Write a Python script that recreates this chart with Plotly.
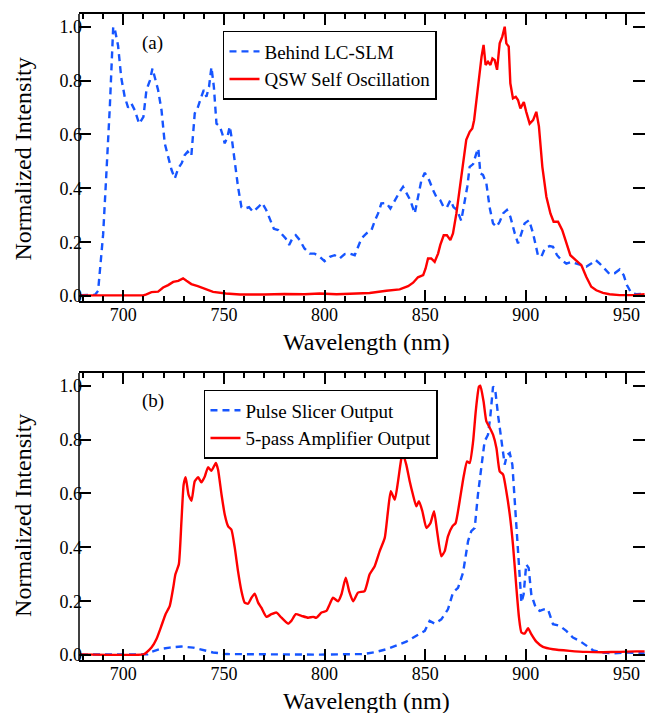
import plotly.graph_objects as go

# ---------------- data ----------------
a_slm_x = [679, 686, 687.5, 688, 690, 691.6, 693.3, 695, 695.8, 697.4, 699, 700.7, 702.4, 704, 705.7, 707.9, 710, 711.5,
           713.2, 714.5, 715.7, 717.3, 719, 720.6, 722.3, 724, 725.6, 727.3, 729, 730.5, 732, 733.8, 735.5, 737, 738.8,
           740, 741.3, 742.6, 743.8, 745, 746.3, 748, 749.3, 750.4, 751.7, 752.9, 754, 755.4, 757, 758.7, 760.3, 762.5,
           764.5, 767, 769, 771, 773, 774.8, 777, 779, 780.7, 782.4, 784, 785.7, 787.7, 790, 792.6, 795, 797.6, 800,
           802.6, 805, 807.5, 810, 812.5, 815, 816.6, 818.3, 820.8, 823.3, 825, 826.6, 828.2, 830.7, 832.7, 834.9,
           837.3, 839, 841, 842.6, 844.8, 846.4, 848.1, 849.8, 852, 853.9, 855.5, 857.5, 859.2, 860.8, 862.5, 864.1,
           865.8, 867.9, 869.6, 870.9, 872.1, 873.8, 875.4, 876.4, 877.4, 878.7, 880.4, 882, 883.7, 885.4, 887, 888.7,
           890.6, 892.3, 894.5, 896.1, 897.8, 899.4, 901.6, 903.6, 906, 907.7, 909.4, 911.8, 913.5, 915.5, 917.6,
           920.1, 922.6, 925.1, 927.6, 930, 932.5, 934.7, 936.7, 939.2, 941.6, 944.1, 946.6, 948.6, 950.2, 952.4,
           954.9, 959]
a_slm_y = [0.004, 0.005, 0.02, 0.06, 0.23, 0.455, 0.70, 1.0, 0.99, 0.93, 0.81, 0.74, 0.70, 0.715, 0.69, 0.64, 0.665, 0.765,
           0.80, 0.845, 0.81, 0.765, 0.69, 0.567, 0.517, 0.468, 0.437, 0.474, 0.493, 0.523, 0.536, 0.52, 0.678, 0.70, 0.74,
           0.765, 0.74, 0.777, 0.85, 0.777, 0.64, 0.63, 0.60, 0.567, 0.59, 0.63, 0.58, 0.49, 0.406, 0.33, 0.325, 0.33,
           0.313, 0.33, 0.346, 0.32, 0.28, 0.25, 0.245, 0.226, 0.214, 0.19, 0.214, 0.226, 0.208, 0.177, 0.158, 0.158,
           0.146, 0.13, 0.146, 0.152, 0.14, 0.156, 0.158, 0.152, 0.183, 0.214, 0.233, 0.245, 0.28, 0.307, 0.344, 0.346,
           0.325, 0.356, 0.387, 0.406, 0.38, 0.356, 0.307, 0.369, 0.43, 0.458, 0.43, 0.394, 0.369, 0.356, 0.33, 0.33,
           0.356, 0.33, 0.32, 0.28, 0.344, 0.406, 0.48, 0.49, 0.53, 0.548, 0.455, 0.45, 0.418, 0.33, 0.27, 0.257, 0.276,
           0.307, 0.32, 0.295, 0.233, 0.196, 0.233, 0.27, 0.282, 0.233, 0.152, 0.146, 0.177, 0.186, 0.183, 0.152, 0.134,
           0.121, 0.127, 0.121, 0.115, 0.109, 0.121, 0.134, 0.121, 0.103, 0.082, 0.085, 0.099, 0.078, 0.041, 0.012,
           0.007, 0.01]

a_qsw_x = [679, 710, 711.5, 714, 717.3, 719.8, 722.3, 724.8, 727.3, 729.7, 731.4, 733.8, 737, 740.5, 744.6, 751, 758, 770,
           780, 790, 797.6, 806, 814, 822.4, 830.7, 837.3, 841.5, 844, 846.4, 849, 850.2, 851.4, 853, 854.7, 856.4, 857.5,
           859.2, 860.8, 862.5, 863.8, 865.5, 866.8, 868.5, 870.4, 872.1, 873.4, 874.3, 875.4, 876.7, 878, 879, 880,
           881.2, 882.4, 883.4, 884.5, 885.7, 887, 888.3, 889.5, 890.3, 891.5, 892.3, 893.6, 895, 896.1, 897.3, 899,
           900.2, 901.9, 903.6, 905.2, 906.5, 908.2, 910.2, 912.2, 913.8, 916, 918.1, 920.1, 922.1, 924.8, 927.6, 930,
           932.5, 935, 938.3, 941.6, 946.6, 953.2, 959]
a_qsw_y = [0.003, 0.003, 0.007, 0.015, 0.017, 0.032, 0.041, 0.053, 0.057, 0.066, 0.057, 0.045, 0.037, 0.028, 0.016, 0.01,
           0.006, 0.006, 0.008, 0.007, 0.01, 0.007, 0.01, 0.012, 0.02, 0.025, 0.037, 0.05, 0.07, 0.078, 0.103, 0.14, 0.14,
           0.127, 0.158, 0.19, 0.226, 0.226, 0.208, 0.233, 0.307, 0.38, 0.455, 0.58, 0.61, 0.622, 0.653, 0.728, 0.814,
           0.889, 0.932, 0.858, 0.87, 0.858, 0.882, 0.876, 0.84, 0.938, 0.963, 1.0, 0.938, 0.926, 0.79, 0.734, 0.74,
           0.728, 0.697, 0.72, 0.684, 0.64, 0.653, 0.684, 0.63, 0.48, 0.369, 0.307, 0.276, 0.276, 0.245, 0.202, 0.152,
           0.134, 0.115, 0.072, 0.035, 0.022, 0.012, 0.007, 0.004, 0.004, 0.007]

b_slicer_x = [679, 712, 713.2, 718, 723, 728.9, 734.7, 739.6, 744.6, 751.2, 780, 797.6, 819.1, 825.7, 830.7, 835.7, 840.6,
              845.6, 849.8, 852.2, 854.7, 858, 861.3, 863.8, 866.3, 868.8, 871.3, 872.9, 874.6, 876.2, 877.9, 879.5,
              881.2, 882.4, 883.7, 884.7, 886.2, 887.8, 889.5, 890.6, 892, 893.3, 895, 896.6, 897.8, 898.9, 900.2,
              901.4, 902.7, 904.9, 906.9, 908.9, 911, 913.5, 916.8, 920.1, 923.4, 926.7, 930, 933.4, 938.3, 943.3,
              949.9, 959]
b_slicer_y = [0.002, 0.003, 0.01, 0.022, 0.028, 0.032, 0.028, 0.02, 0.01, 0.004, 0.002, 0.002, 0.004, 0.012, 0.022, 0.035,
              0.05, 0.072, 0.09, 0.127, 0.117, 0.133, 0.17, 0.232, 0.25, 0.306, 0.423, 0.46, 0.472, 0.596, 0.707, 0.793,
              0.818, 0.89, 0.996, 0.99, 0.89, 0.805, 0.707, 0.743, 0.75, 0.707, 0.52, 0.324, 0.195, 0.226, 0.337, 0.324,
              0.226, 0.176, 0.164, 0.17, 0.17, 0.115, 0.109, 0.09, 0.065, 0.053, 0.035, 0.018, 0.01, 0.006, 0.01, 0.006]

b_amp_x = [679, 710, 711.5, 714, 716.5, 719, 721, 723.1, 724.8, 725.9, 727.6, 728.9, 730, 731, 732.4, 733.9, 735.5, 737.2,
           738.8, 740.5, 742.1, 743.8, 746, 747.1, 748.8, 750.4, 752.1, 753.7, 755.4, 757, 758.7, 760.3, 762, 763.7,
           765.3, 767, 768.6, 771.1, 773.6, 776.1, 778.6, 781.9, 783.5, 785.7, 788.5, 791.8, 794.3, 796, 798.5, 800.9,
           802.6, 804.2, 806.7, 808.4, 810.5, 812.2, 814.2, 816.6, 819.9, 822.4, 824.9, 827.4, 829.9, 831.5, 832.9,
           834.9, 836.5, 838.2, 839, 840.6, 842.3, 843.9, 845.6, 846.9, 848.6, 850.6, 852.6, 854.4, 855.9, 858, 859.7,
           861.3, 863.5, 865.1, 867.1, 869.1, 870.8, 872.1, 873.8, 875.1, 876.7, 877.4, 879, 880.4, 882, 883.7, 885.4,
           887, 888.7, 890.3, 892, 893.6, 895.3, 896.6, 897.8, 899.4, 901.1, 902.7, 905.2, 908.5, 913.5, 921.8, 930,
           938.3, 946.6, 954.9, 959]
b_amp_y = [0.003, 0.003, 0.01, 0.028, 0.06, 0.11, 0.152, 0.183, 0.25, 0.30, 0.337, 0.497, 0.633, 0.66, 0.596, 0.573, 0.645,
           0.66, 0.641, 0.663, 0.697, 0.684, 0.713, 0.688, 0.596, 0.522, 0.478, 0.466, 0.398, 0.312, 0.238, 0.195, 0.191,
           0.213, 0.228, 0.195, 0.176, 0.142, 0.152, 0.158, 0.139, 0.117, 0.127, 0.152, 0.146, 0.139, 0.142, 0.139,
           0.158, 0.164, 0.19, 0.213, 0.20, 0.226, 0.287, 0.238, 0.20, 0.232, 0.238, 0.30, 0.33, 0.386, 0.435, 0.534,
           0.608, 0.577, 0.645, 0.731, 0.744, 0.707, 0.645, 0.596, 0.552, 0.571, 0.534, 0.472, 0.49, 0.534, 0.46, 0.367,
           0.386, 0.441, 0.478, 0.49, 0.571, 0.663, 0.719, 0.713, 0.793, 0.904, 0.996, 1.0, 0.941, 0.867, 0.845, 0.818,
           0.768, 0.682, 0.67, 0.608, 0.522, 0.41, 0.25, 0.139, 0.084, 0.08, 0.10, 0.078, 0.05, 0.031, 0.022, 0.016,
           0.012, 0.011, 0.012, 0.014, 0.014]

names_a = ["Behind LC-SLM", "QSW Self Oscillation"]
names_b = ["Pulse Slicer Output", "5-pass Amplifier Output"]
panel_labels = ["(a)", "(b)"]
x_title = "Wavelength (nm)"
y_title = "Normalized Intensity"
x_ticks = [700, 750, 800, 850, 900, 950]
y_ticks = [0.0, 0.2, 0.4, 0.6, 0.8, 1.0]

# ---------------- styling ----------------
FONT = "Liberation Serif, Times New Roman, serif"
BLUE = "#1655ff"
RED = "#ff0000"
DASH = "7px,5px"
LW = 2.4

fig = go.Figure()
fig.add_trace(go.Scatter(x=a_slm_x, y=a_slm_y, name=names_a[0], mode="lines",
                         line=dict(color=BLUE, width=LW, dash=DASH), xaxis="x", yaxis="y", legend="legend"))
fig.add_trace(go.Scatter(x=a_qsw_x, y=a_qsw_y, name=names_a[1], mode="lines",
                         line=dict(color=RED, width=LW), xaxis="x", yaxis="y", legend="legend"))
fig.add_trace(go.Scatter(x=b_slicer_x, y=b_slicer_y, name=names_b[0], mode="lines",
                         line=dict(color=BLUE, width=LW, dash=DASH), xaxis="x2", yaxis="y2", legend="legend2"))
fig.add_trace(go.Scatter(x=b_amp_x, y=b_amp_y, name=names_b[1], mode="lines",
                         line=dict(color=RED, width=LW, shape="spline", smoothing=0.5),
                         xaxis="x2", yaxis="y2", legend="legend2"))

xr = [678, 959.2]
yr = [-0.018, 1.047]

def xax(anchor):
    return dict(range=xr, anchor=anchor, tickvals=x_ticks, ticks="inside", ticklen=11, tickwidth=1.5,
                tickcolor="black", showline=True, linecolor="black", linewidth=1.5, mirror="ticks",
                minor=dict(dtick=10, tick0=0, ticks="inside", ticklen=5, tickwidth=1.5, tickcolor="black"),
                showgrid=False, zeroline=False, tickfont=dict(family=FONT, size=18, color="black"),
                ticklabelstandoff=-3)

def yax(anchor, dom):
    return dict(range=yr, anchor=anchor, domain=dom, tickvals=y_ticks, tickformat=".1f", ticks="inside",
                ticklen=12, tickwidth=1.5, tickcolor="black", showline=False, mirror="ticks",
                showgrid=False, zeroline=False, tickfont=dict(family=FONT, size=18, color="black"),
                ticklabelstandoff=-4)

def ann(text, x, y, size, angle=0):
    return dict(text=text, xref="paper", yref="paper", x=x, y=y, xanchor="center", yanchor="middle",
                showarrow=False, textangle=angle, font=dict(family=FONT, size=size, color="black"))

legend_style = dict(xanchor="left", yanchor="top", bordercolor="black", borderwidth=1.5, bgcolor="white",
                    font=dict(family=FONT, size=19, color="black"), tracegroupgap=0, itemwidth=30)

fig.update_layout(
    width=645, height=713,
    margin=dict(l=79, r=0, t=14, b=53),
    paper_bgcolor="white", plot_bgcolor="white",
    font=dict(family=FONT, color="black"),
    xaxis=xax("y"), yaxis=yax("x", [0.5557, 1.0]),
    xaxis2=xax("y2"), yaxis2=yax("x2", [0.0, 0.4443]),
    legend=dict(x=0.2544, y=0.9737, **legend_style),
    legend2=dict(x=0.2208, y=0.4180, **legend_style),
    shapes=[
        dict(type="line", xref="x domain", yref="y domain", x0=0, x1=0, y0=0, y1=1,
             line=dict(color="black", width=1.5)),
        dict(type="line", xref="x2 domain", yref="y2 domain", x0=0, x1=0, y0=0, y1=1,
             line=dict(color="black", width=1.5)),
    ],
    annotations=[
        ann(panel_labels[0], 0.1307, 0.955, 19),
        ann(panel_labels[1], 0.1307, 0.401, 19),
        ann(x_title, 0.508, 0.4923, 24),
        ann(x_title, 0.508, -0.0635, 24),
        ann(y_title, -0.099, 0.7762, 24, -90),
        ann(y_title, -0.099, 0.2245, 24, -90),
    ],
)

fig.write_html("out.html")
